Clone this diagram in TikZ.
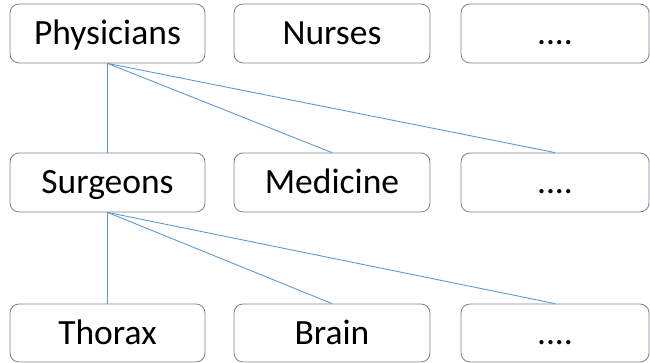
\documentclass[tikz,border=0pt]{standalone}
\usepackage{fontspec}
\setmainfont{Carlito}
\definecolor{boxgray}{RGB}{125,130,138}
\definecolor{linkblue}{RGB}{91,155,213}
\begin{document}
\begin{tikzpicture}[x=1pt,y=1pt,
  item/.style={draw=boxgray, line width=0.8pt, rounded corners=9pt, fill=white,
    minimum height=59pt, inner sep=0pt, text height=23pt, text depth=0pt,
    font=\fontsize{35.5}{40}\selectfont, text=black},
  link/.style={draw=linkblue, line width=0.9pt}]
\useasboundingbox (0,0) rectangle (650,363);
% row 1
\node[item, minimum width=195pt] (phys) at (107.5,329.5) {Physicians};
\node[item, minimum width=196pt] (nurs) at (332,329.5) {Nurses};
\node[item, minimum width=188pt] (dot1) at (555,329.5) {....};
% row 2
\node[item, minimum width=195pt] (surg) at (107.5,180.5) {Surgeons};
\node[item, minimum width=196pt] (medi) at (332,180.5) {Medicine};
\node[item, minimum width=188pt] (dot2) at (555,180.5) {....};
% row 3
\node[item, minimum width=195pt, minimum height=58pt] (thor) at (107.5,30) {Thorax};
\node[item, minimum width=196pt, minimum height=58pt] (brai) at (332,30) {Brain};
\node[item, minimum width=188pt, minimum height=58pt] (dot3) at (555,30) {....};
% links
\draw[link] (phys.south) -- (surg.north);
\draw[link] (phys.south) -- (medi.north);
\draw[link] (phys.south) -- (dot2.north);
\draw[link] (surg.south) -- (thor.north);
\draw[link] (surg.south) -- (brai.north);
\draw[link] (surg.south) -- (dot3.north);
\end{tikzpicture}
\end{document}
